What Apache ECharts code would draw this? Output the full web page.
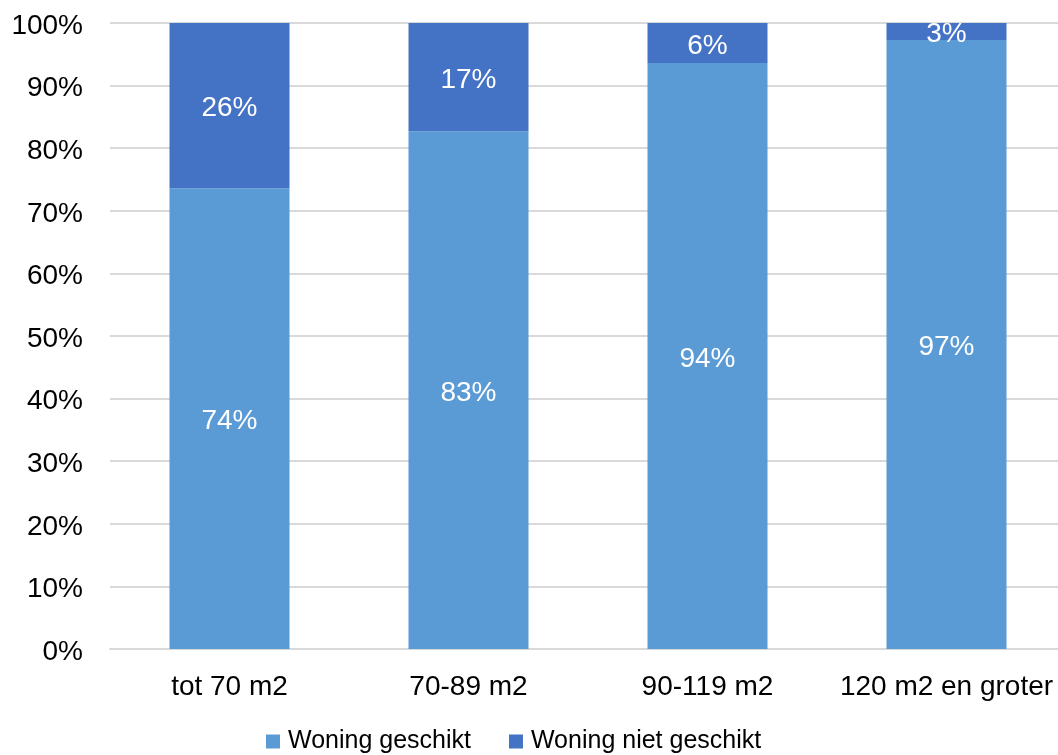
<!DOCTYPE html>
<html>
<head>
<meta charset="utf-8">
<style>html,body{margin:0;padding:0;background:#fff;}#chart{width:1058px;height:755px;}</style>
<script src="https://cdn.jsdelivr.net/npm/echarts@6/dist/echarts.min.js"></script>
</head>
<body>
<div id="chart"></div>
<script>
const categories = ['tot 70 m2', '70-89 m2', '90-119 m2', '120 m2 en groter'];
const geschikt = [73.6, 82.7, 93.6, 97.3];
const nietGeschikt = [26.4, 17.3, 6.4, 2.7];
const seriesNames = ['Woning geschikt', 'Woning niet geschikt'];

const chart = echarts.init(document.getElementById('chart'));
const font = 'Liberation Sans, Arial, sans-serif';
const lbl = {
  show: true, position: 'inside', color: '#ffffff', fontSize: 28, fontFamily: font,
  offset: [0, 3],
  formatter: p => Math.round(p.value) + '%'
};
chart.setOption({
  animation: false,
  color: ['#5B9BD5', '#4472C4'],
  grid: { left: 110, width: 956, top: 23, bottom: 106, containLabel: false, outerBoundsMode: 'none' },
  legend: {
    bottom: -4, left: 261, itemWidth: 14, itemHeight: 14, itemGap: 38,
    icon: 'rect',
    textStyle: { fontSize: 25, fontFamily: font, color: '#000', padding: [0, 0, 0, 3] },
    data: seriesNames
  },
  xAxis: {
    type: 'category', data: categories,
    axisLine: { lineStyle: { color: '#d9d9d9', width: 2 } },
    axisTick: { show: false },
    axisLabel: { fontSize: 28, fontFamily: font, color: '#000', margin: 24, interval: 0 }
  },
  yAxis: {
    type: 'value', min: 0, max: 100, interval: 10,
    axisLabel: {
      fontSize: 28, fontFamily: font, color: '#000', margin: 27,
      formatter: v => '{a|' + v + '%}',
      rich: { a: { fontSize: 28, fontFamily: font, color: '#000', padding: [6, 0, 0, 0] } }
    },
    splitLine: { lineStyle: { color: '#d9d9d9', width: 2 } },
    axisLine: { show: false }, axisTick: { show: false }
  },
  series: [
    { name: seriesNames[0], type: 'bar', stack: 's', data: geschikt, barWidth: 120, label: lbl },
    { name: seriesNames[1], type: 'bar', stack: 's', data: nietGeschikt, barWidth: 120, label: lbl }
  ]
});
</script>
</body>
</html>
